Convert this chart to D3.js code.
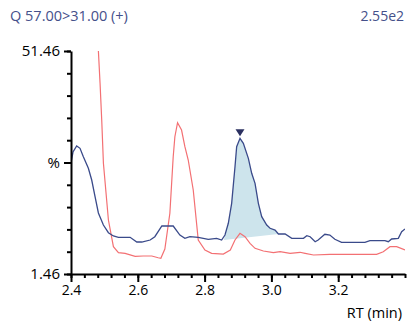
<!DOCTYPE html>
<html><head><meta charset="utf-8">
<script src="https://cdn.jsdelivr.net/npm/d3@7"></script>
<style>
html,body{margin:0;padding:0;background:#fff;}
svg text{font-family:"Open Sans","Noto Sans",sans-serif;}
</style></head>
<body><svg id="c" width="407" height="321"></svg>
<script>
// ---- data ----
const title = "Q 57.00>31.00 (+)";
const scaleLabel = "2.55e2";
const xLabel = "RT (min)";
const yTopLabel = "51.46", yBottomLabel = "1.46", yMidLabel = "%";
const xDomain = [2.4, 3.4];
const yDomain = [1.46, 51.46];
const xTickLabels = [2.4, 2.6, 2.8, 3.0, 3.2];

const blueRT = [2.400,2.406,2.417,2.427,2.437,2.452,2.462,2.472,2.482,2.497,2.512,2.527,2.542,2.577,2.597,2.612,2.637,2.651,2.672,2.706,2.726,2.741,2.756,2.781,2.811,2.836,2.851,2.861,2.871,2.881,2.891,2.896,2.906,2.916,2.931,2.941,2.951,2.961,2.971,2.986,2.996,3.011,3.021,3.041,3.061,3.096,3.106,3.116,3.131,3.140,3.160,3.175,3.190,3.210,3.280,3.295,3.340,3.350,3.360,3.380,3.390,3.400];
const blueInt = [26.35,28.81,30.16,29.64,27.76,25.16,22.53,18.79,15.14,12.45,10.72,9.98,9.69,9.69,8.63,8.63,9.08,9.82,12.22,12.22,10.20,9.46,9.82,9.69,9.24,9.46,9.08,10.20,12.83,17.31,25.52,30.00,31.88,30.76,27.40,24.04,21.80,17.31,14.31,12.45,11.71,11.32,10.43,10.43,9.46,9.46,10.05,9.82,8.70,9.08,10.36,10.20,9.24,8.57,8.57,8.93,8.93,8.70,9.31,9.46,10.94,11.55];

const redRT = [2.480,2.482,2.487,2.492,2.497,2.512,2.527,2.542,2.562,2.592,2.616,2.642,2.661,2.669,2.681,2.696,2.706,2.711,2.719,2.731,2.741,2.751,2.766,2.781,2.801,2.821,2.856,2.877,2.891,2.906,2.921,2.936,2.951,2.976,3.006,3.026,3.056,3.086,3.101,3.126,3.175,3.315,3.335,3.355,3.375,3.400];
const redInt = [53.5,51.46,44.22,35.99,26.35,13.57,7.58,6.24,6.10,5.43,5.50,5.50,5.11,4.98,7.07,15.07,27.76,32.24,35.38,33.74,30.00,27.02,20.29,9.08,6.84,6.10,5.94,6.84,9.08,10.58,9.82,8.34,7.22,6.62,6.24,6.46,6.10,6.33,6.10,5.72,5.88,5.88,6.46,7.58,7.58,6.84];

const peakRT = 2.906, peakInt = 31.88;
const integStart = [2.858, 9.08];
const integEnd = [3.021, 10.43];

// ---- chart ----
const svg = d3.select("#c");
const x = d3.scaleLinear().domain(xDomain).range([71, 405]);
const y = d3.scaleLinear().domain(yDomain).range([274, 51]);

const blue = blueRT.map((t,i)=>[t, blueInt[i]]);
const red = redRT.map((t,i)=>[t, redInt[i]]);

svg.append("defs").append("clipPath").attr("id","clip")
  .append("rect").attr("x",71).attr("y",51).attr("width",334).attr("height",223);

const g = svg.append("g").attr("clip-path","url(#clip)");

// integrated area
const inside = blue.filter(d => d[0] > integStart[0] && d[0] < integEnd[0]);
const areaPts = [integStart, ...inside, integEnd];
g.append("path")
  .attr("d", d3.line().x(d=>x(d[0])).y(d=>y(d[1]))(areaPts) + "Z")
  .attr("fill", "#cde4ec").attr("stroke","none");

const line = d3.line().x(d=>x(d[0])).y(d=>y(d[1])).curve(d3.curveLinear);
g.append("path").attr("d", line(red)).attr("fill","none")
  .attr("stroke","#f37073").attr("stroke-width",1.2);
g.append("path").attr("d", line(blue)).attr("fill","none")
  .attr("stroke","#3a4a8a").attr("stroke-width",1.3);

// peak marker
const px = x(peakRT), py = y(peakInt) - 2;
svg.append("path")
  .attr("d", `M${px-4.5},${py-7}L${px+4.5},${py-7}L${px},${py}Z`)
  .attr("fill","#2b3060");

// axes
const yMinor = d3.range(11).map(i => yDomain[0] + i*(yDomain[1]-yDomain[0])/10);
const yMajor = [yDomain[0], (yDomain[0]+yDomain[1])/2, yDomain[1]];
const xMinor = d3.range(26).map(i => +(xDomain[0] + i*0.04).toFixed(2));

svg.append("g").attr("transform","translate(71,0)")
  .call(d3.axisLeft(y).tickValues(yMinor).tickSize(4).tickSizeOuter(0).tickFormat(""));
svg.append("g").attr("transform","translate(71,0)")
  .call(d3.axisLeft(y).tickValues(yMajor).tickSize(7).tickSizeOuter(0)
    .tickFormat((d,i)=>[yBottomLabel, yMidLabel, yTopLabel][i]))
  .call(a=>a.select(".domain").remove())
  .selectAll("text").attr("x",-11).style("font-size","15px").attr("fill","#000");

svg.append("g").attr("transform","translate(0,274)")
  .call(d3.axisBottom(x).tickValues(xMinor).tickSize(4).tickSizeOuter(0).tickFormat(""));
svg.append("g").attr("transform","translate(0,274)")
  .call(d3.axisBottom(x).tickValues(xTickLabels).tickSize(8).tickSizeOuter(0).tickFormat(d3.format(".1f")))
  .call(a=>a.select(".domain").remove())
  .selectAll("text").attr("y",11).style("font-size","14px").attr("fill","#000");

svg.selectAll(".domain").attr("stroke","#000").attr("stroke-width",2);
svg.selectAll(".tick line").attr("stroke","#000").attr("stroke-width",2);

// texts
svg.append("text").attr("x",10).attr("y",21).text(title)
  .attr("fill","#45508a").style("font-size","14.5px");
svg.append("text").attr("x",404).attr("y",21).attr("text-anchor","end").text(scaleLabel)
  .attr("fill","#45508a").style("font-size","14px");
svg.append("text").attr("x",402).attr("y",318).attr("text-anchor","end").text(xLabel)
  .attr("fill","#000").style("font-size","14.5px");
</script></body></html>
